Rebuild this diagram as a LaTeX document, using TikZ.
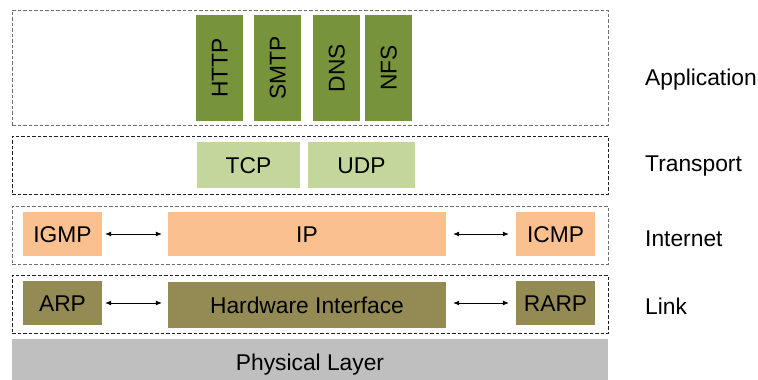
\documentclass[tikz,border=0pt]{standalone}
\usepackage{fontspec}
\setmainfont{Liberation Sans}
\usetikzlibrary{arrows.meta}
\definecolor{appc}{HTML}{77933C}
\definecolor{trc}{HTML}{C3D69B}
\definecolor{inc}{HTML}{FAC090}
\definecolor{lkc}{HTML}{948A54}
\definecolor{phc}{HTML}{BFBFBF}
\definecolor{dashg}{HTML}{707070}
\definecolor{dashk}{HTML}{202020}
\begin{document}
\begin{tikzpicture}[x=1pt,y=-1pt,
  every node/.style={font=\fontsize{22.8}{26}\selectfont, inner sep=0pt, text=black,
    text height=16.3pt, text depth=0pt},
  layer/.style={draw=#1, dash pattern=on 3.5pt off 2pt, line width=0.9pt, minimum width=596pt},
  vproto/.style={rectangle, fill=appc, rotate=90, minimum width=106pt, minimum height=47pt},
  lbl/.style={anchor=west},
  biarrow/.style={{Latex[length=6pt,width=5pt]}-{Latex[length=6pt,width=5pt]}, line width=0.8pt}
]
\useasboundingbox (0,0) rectangle (758,380);
% layers
\node[layer=dashg, minimum height=115pt] (app) at (310,67.5) {};
\node[layer=dashk, minimum height=58pt] (tr) at (310,165) {};
\node[layer=dashg, minimum height=58pt] (in) at (310,235) {};
\node[layer=dashk, minimum height=58pt] (lk) at (310,304) {};
\node[fill=phc, minimum width=596pt, minimum height=41pt, text height=22.3pt] (ph) at (310,359.5) {Physical Layer};
% application
\node[vproto] (http) at (219.5,68) {HTTP};
\node[vproto] (smtp) at (277.5,68) {SMTP};
\node[vproto] (dns) at (336.5,68) {DNS};
\node[vproto] (nfs) at (388.5,68) {NFS};
% transport
\node[fill=trc, minimum width=103pt, minimum height=46pt] (tcp) at (248.5,165) {TCP};
\node[fill=trc, minimum width=107pt, minimum height=46pt] (udp) at (361.5,165) {UDP};
% internet
\node[fill=inc, minimum width=79pt, minimum height=44pt] (igmp) at (62.5,234) {IGMP};
\node[fill=inc, minimum width=278pt, minimum height=44pt] (ip) at (307,234) {IP};
\node[fill=inc, minimum width=79pt, minimum height=44pt] (icmp) at (555.5,234) {ICMP};
% link
\node[fill=lkc, minimum width=79pt, minimum height=44pt] (arp) at (62.5,303) {ARP};
\node[fill=lkc, minimum width=278pt, minimum height=46pt] (hw) at (307,305) {Hardware Interface};
\node[fill=lkc, minimum width=79pt, minimum height=44pt] (rarp) at (555.5,303) {RARP};
% arrows
\draw[biarrow, shorten <=3pt, shorten >=6pt] (igmp.east) -- (ip.west);
\draw[biarrow, shorten <=7pt, shorten >=7pt] (ip.east) -- (icmp.west);
\draw[biarrow, shorten <=3pt, shorten >=6pt] (arp.east) -- (arp.east -| hw.west);
\draw[biarrow, shorten <=7pt, shorten >=7pt] (rarp.west -| hw.east) -- (rarp.west);
% labels
\node[lbl] (lapp) at (645,77) {Application};
\node[lbl] (ltr) at (645,163) {Transport};
\node[lbl] (lin) at (645,238) {Internet};
\node[lbl] (llk) at (645,306) {Link};
\end{tikzpicture}
\end{document}
